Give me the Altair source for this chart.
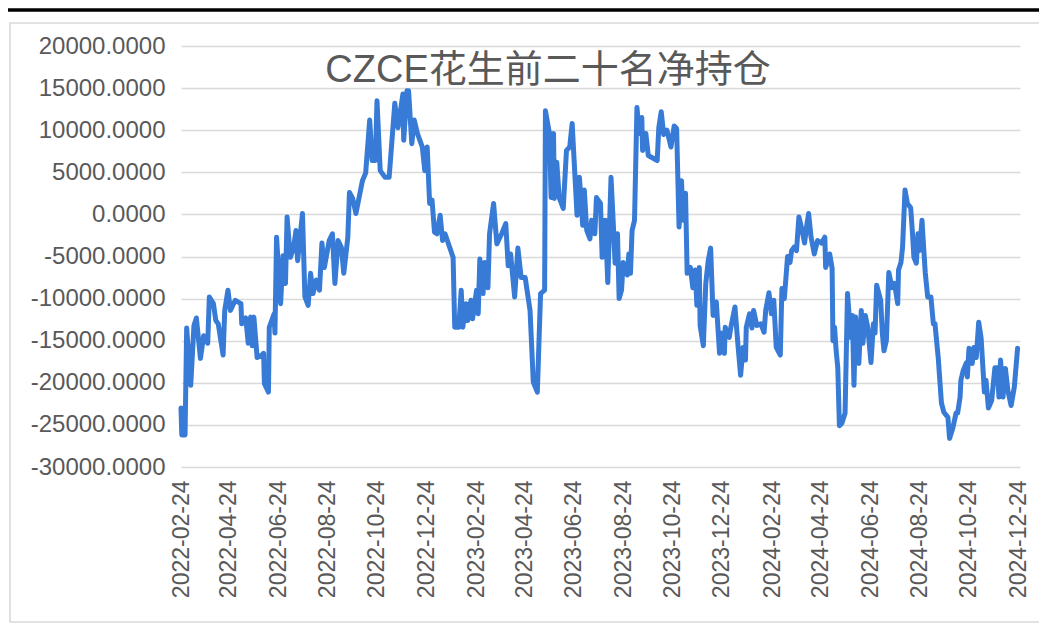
import altair as alt
import pandas as pd

# ---------------- data ----------------
dates = [
    "2022-02-24", "2022-02-25", "2022-03-01", "2022-03-03", "2022-03-08", "2022-03-12", "2022-03-15",
    "2022-03-20", "2022-03-24", "2022-03-29", "2022-03-31", "2022-04-05", "2022-04-08", "2022-04-11",
    "2022-04-17", "2022-04-19", "2022-04-23", "2022-04-26", "2022-05-02", "2022-05-09", "2022-05-10",
    "2022-05-15", "2022-05-18", "2022-05-21", "2022-05-23", "2022-05-25", "2022-05-29", "2022-06-04",
    "2022-06-06", "2022-06-07", "2022-06-12", "2022-06-13", "2022-06-19", "2022-06-20", "2022-06-22",
    "2022-06-27", "2022-06-30", "2022-07-03", "2022-07-05", "2022-07-09", "2022-07-13", "2022-07-16",
    "2022-07-18", "2022-07-24", "2022-07-27", "2022-07-31", "2022-08-03", "2022-08-06", "2022-08-10",
    "2022-08-14", "2022-08-17", "2022-08-20", "2022-08-26", "2022-08-30", "2022-09-02", "2022-09-06",
    "2022-09-10", "2022-09-13", "2022-09-18", "2022-09-20", "2022-09-24", "2022-09-28", "2022-10-06",
    "2022-10-10", "2022-10-15", "2022-10-18", "2022-10-22", "2022-10-24", "2022-10-28", "2022-11-03",
    "2022-11-08", "2022-11-15", "2022-11-19", "2022-11-25", "2022-11-26", "2022-11-30", "2022-12-02",
    "2022-12-06", "2022-12-09", "2022-12-13", "2022-12-19", "2022-12-22", "2022-12-25", "2022-12-28",
    "2022-12-31", "2023-01-03", "2023-01-06", "2023-01-10", "2023-01-13", "2023-01-16", "2023-01-26",
    "2023-01-28", "2023-02-02", "2023-02-05", "2023-02-07", "2023-02-11", "2023-02-13", "2023-02-17",
    "2023-02-19", "2023-02-24", "2023-02-26", "2023-02-28", "2023-03-04", "2023-03-06", "2023-03-10",
    "2023-03-12", "2023-03-17", "2023-03-21", "2023-03-27", "2023-04-01", "2023-04-04", "2023-04-07",
    "2023-04-12", "2023-04-16", "2023-04-20", "2023-04-25", "2023-05-01", "2023-05-05", "2023-05-10",
    "2023-05-14", "2023-05-19", "2023-05-20", "2023-05-25", "2023-05-27", "2023-05-30", "2023-05-31",
    "2023-06-03", "2023-06-06", "2023-06-11", "2023-06-15", "2023-06-19", "2023-06-22", "2023-06-28",
    "2023-07-01", "2023-07-05", "2023-07-07", "2023-07-10", "2023-07-14", "2023-07-16", "2023-07-20",
    "2023-07-22", "2023-07-27", "2023-07-29", "2023-08-02", "2023-08-05", "2023-08-09", "2023-08-12",
    "2023-08-14", "2023-08-17", "2023-08-19", "2023-08-22", "2023-08-24", "2023-08-29", "2023-08-31",
    "2023-09-02", "2023-09-04", "2023-09-07", "2023-09-10", "2023-09-13", "2023-09-16", "2023-09-17",
    "2023-09-21", "2023-09-24", "2023-10-05", "2023-10-07", "2023-10-10", "2023-10-13", "2023-10-17",
    "2023-10-22", "2023-10-26", "2023-10-29", "2023-11-01", "2023-11-04", "2023-11-06", "2023-11-09",
    "2023-11-11", "2023-11-15", "2023-11-18", "2023-11-21", "2023-11-23", "2023-11-26", "2023-11-27",
    "2023-12-01", "2023-12-04", "2023-12-07", "2023-12-10", "2023-12-13", "2023-12-17", "2023-12-21",
    "2023-12-24", "2023-12-27", "2023-12-28", "2024-01-02", "2024-01-04", "2024-01-09", "2024-01-13",
    "2024-01-16", "2024-01-19", "2024-01-22", "2024-01-23", "2024-01-27", "2024-01-30", "2024-02-01",
    "2024-02-05", "2024-02-10", "2024-02-14", "2024-02-16", "2024-02-20", "2024-02-23", "2024-02-26",
    "2024-02-29", "2024-03-05", "2024-03-07", "2024-03-10", "2024-03-14", "2024-03-17", "2024-03-19",
    "2024-03-22", "2024-03-25", "2024-03-28", "2024-03-31", "2024-04-04", "2024-04-07", "2024-04-09",
    "2024-04-12", "2024-04-16", "2024-04-20", "2024-04-25", "2024-04-29", "2024-04-30", "2024-05-05",
    "2024-05-08", "2024-05-09", "2024-05-11", "2024-05-13", "2024-05-15", "2024-05-17", "2024-05-20",
    "2024-05-24", "2024-05-27", "2024-05-31", "2024-06-02", "2024-06-04", "2024-06-06", "2024-06-10",
    "2024-06-13", "2024-06-15", "2024-06-18", "2024-06-21", "2024-06-25", "2024-06-28", "2024-06-30",
    "2024-07-02", "2024-07-07", "2024-07-09", "2024-07-11", "2024-07-14", "2024-07-17", "2024-07-21",
    "2024-07-24", "2024-07-28", "2024-07-29", "2024-08-01", "2024-08-03", "2024-08-06", "2024-08-09",
    "2024-08-13", "2024-08-15", "2024-08-17", "2024-08-20", "2024-08-22", "2024-08-24", "2024-08-27",
    "2024-08-29", "2024-08-31", "2024-09-03", "2024-09-07", "2024-09-10", "2024-09-12", "2024-09-16",
    "2024-09-18", "2024-09-20", "2024-09-23", "2024-09-28", "2024-09-30", "2024-10-04", "2024-10-08",
    "2024-10-10", "2024-10-13", "2024-10-14", "2024-10-17", "2024-10-21", "2024-10-22", "2024-10-24",
    "2024-10-28", "2024-10-30", "2024-11-02", "2024-11-05", "2024-11-08", "2024-11-12", "2024-11-14",
    "2024-11-17", "2024-11-21", "2024-11-25", "2024-11-28", "2024-11-30", "2024-12-02", "2024-12-05",
    "2024-12-08", "2024-12-11", "2024-12-15", "2024-12-19", "2024-12-23",
]

net_position = [
    -23000, -26200, -26200, -13500, -20300, -13200, -12300,
    -17100, -14400, -15300, -9800, -10600, -12600, -13000,
    -16700, -11400, -9000, -11400, -10200, -10600, -13000,
    -12300, -15300, -12200, -15600, -12200, -17000, -16700,
    -16500, -20100, -21100, -13400, -11800, -14100, -2700,
    -10600, -4900, -8200, -300, -5100, -4000, -1900,
    -5500, 100, -9800, -10800, -7000, -9400, -7800,
    -9000, -3400, -6300, -3100, -2300, -8200, -3100,
    -3900, -7000, -2700, 2600, 1900, 100, 4000,
    4900, 11200, 6400, 6400, 13500, 5200, 4400,
    4400, 13200, 10300, 14300, 8800, 14700, 14700,
    8400, 11200, 9600, 8000, 5200, 8000, 1300,
    1700, -2100, -2300, -100, -3100, -2300, -5100,
    -13400, -13400, -9000, -13400, -10600, -12600, -10200,
    -12400, -9000, -11800, -5300, -9400, -5700, -8700,
    -2300, 1300, -3500, -2300, -1100, -6100, -4700,
    -9800, -4000, -7500, -7500, -11400, -19900, -21100,
    -9400, -9000, 12300, 9600, 2000, 9600, 1900,
    6200, 2000, 700, 7600, 8000, 10800, -100,
    4400, -1300, 2900, -1900, -2900, -700, -2300,
    2000, 1300, -5100, -700, -8100, 4400, -1500,
    -5800, -2300, -10000, -9000, -5700, -7200, -4700,
    -7000, -1900, -700, 12700, 9600, 11500, 7600,
    9600, 7000, 6400, 10300, 12200, 9500, 10000,
    8000, 10500, 10200, -1500, 4000, -700, 2500,
    -7000, -6300, -8700, -6600, -10800, -6300, -13200,
    -15600, -8200, -5500, -4000, -12000, -10400, -16500,
    -14100, -16500, -13400, -14600, -13400, -11000, -15800,
    -19100, -15800, -17300, -13400, -11800, -13500, -11400,
    -13200, -13000, -14000, -11400, -9300, -11800, -10200,
    -15800, -16700, -8800, -10000, -5000, -5700, -4300,
    -3900, -4300, -300, -1500, -3400, -1100, 100,
    -2700, -4700, -3100, -3400, -2700, -6300, -4700,
    -6400, -15000, -13400, -16200, -18200, -25100, -24800,
    -23600, -9400, -14600, -12000, -20300, -12200, -17700,
    -11400, -15300, -12000, -13400, -17600, -13000, -14100,
    -8400, -10200, -14100, -16200, -15000, -6900, -8700,
    -8200, -10600, -6600, -5700, -3900, 2900, 1300,
    800, -1900, -5100, -5800, -2300, -4300, -700,
    -3900, -6900, -9800, -9800, -13000, -13000, -17000,
    -19700, -22400, -23500, -24100, -26600, -25400, -23600,
    -23600, -21700, -19700, -18500, -17600, -19300, -15900,
    -17700, -15800, -17000, -12800, -14700, -21100, -19700,
    -23000, -22100, -18200, -18200, -21700, -17300, -21700,
    -18300, -20900, -22700, -20500, -15900,
]

tick_dates = [
    "2022-02-24", "2022-04-24", "2022-06-24", "2022-08-24", "2022-10-24", "2022-12-24",
    "2023-02-24", "2023-04-24", "2023-06-24", "2023-08-24", "2023-10-24", "2023-12-24",
    "2024-02-24", "2024-04-24", "2024-06-24", "2024-08-24", "2024-10-24", "2024-12-24",
]
x_domain = ["2022-02-24", "2024-12-26"]
y_ticks = [-30000, -25000, -20000, -15000, -10000, -5000, 0, 5000, 10000, 15000, 20000]
chart_title = "CZCE花生前二十名净持仓"

# ---------------- chart ----------------
df = pd.DataFrame({"date": dates, "value": net_position})


def dt(s):
    y, m, d = (int(p) for p in s.split("-"))
    return alt.DateTime(year=y, month=m, date=d, utc=True)


W, H = 839, 421
TEXT = "#595959"
GRID = "#d9d9d9"
FONT = "Liberation Sans, Arial, Noto Sans CJK SC"

line = alt.Chart(df).mark_line(
    color="#377BD6", strokeWidth=5, strokeJoin="round", strokeCap="round"
).encode(
    x=alt.X(
        "date:T",
        scale=alt.Scale(type="utc", domain=[dt(x_domain[0]), dt(x_domain[1])]),
        axis=alt.Axis(
            values=[dt(s) for s in tick_dates],
            labelExpr="utcFormat(datum.value, '%Y-%m-%d')",
            labelAngle=270,
            labelFontSize=23,
            labelColor=TEXT,
            labelFont=FONT,
            labelPadding=13,
            ticks=False,
            domain=False,
            grid=False,
            title=None,
            labelOverlap=False,
        ),
    ),
    y=alt.Y(
        "value:Q",
        scale=alt.Scale(domain=[y_ticks[0], y_ticks[-1]], nice=False),
        axis=alt.Axis(
            values=y_ticks,
            labelExpr="replace(format(datum.value, '.4f'), '\u2212', '-')",
            labelFontSize=24,
            labelColor=TEXT,
            labelFont=FONT,
            labelPadding=16,
            ticks=False,
            domain=False,
            grid=True,
            gridColor=GRID,
            gridWidth=1.6,
            title=None,
            labelOverlap=False,
        ),
    ),
)

one = alt.Data(values=[{"t": chart_title}])

frame = alt.Chart(one).mark_rect(
    fill="white", fillOpacity=0, stroke=GRID, strokeWidth=1.6
).encode(
    x=alt.value(-171), x2=alt.value(900), y=alt.value(-23), y2=alt.value(576)
)

top_bar = alt.Chart(one).mark_rule(color="black", strokeWidth=3.5).encode(
    x=alt.value(-200), x2=alt.value(900), y=alt.value(-36), y2=alt.value(-36)
)

title = alt.Chart(one).mark_text(
    font=FONT, fontSize=38, color=TEXT, align="center", baseline="alphabetic"
).encode(text="t:N", x=alt.value(367), y=alt.value(36))

chart = alt.layer(frame, top_bar, line, title).properties(
    width=W,
    height=H,
    padding={"left": 173, "top": 38, "right": 19, "bottom": 157},
    autosize=alt.AutoSizeParams(type="none"),
).configure_view(stroke=None)

chart.save("out.html", embed_options={"renderer": "svg", "actions": False})
